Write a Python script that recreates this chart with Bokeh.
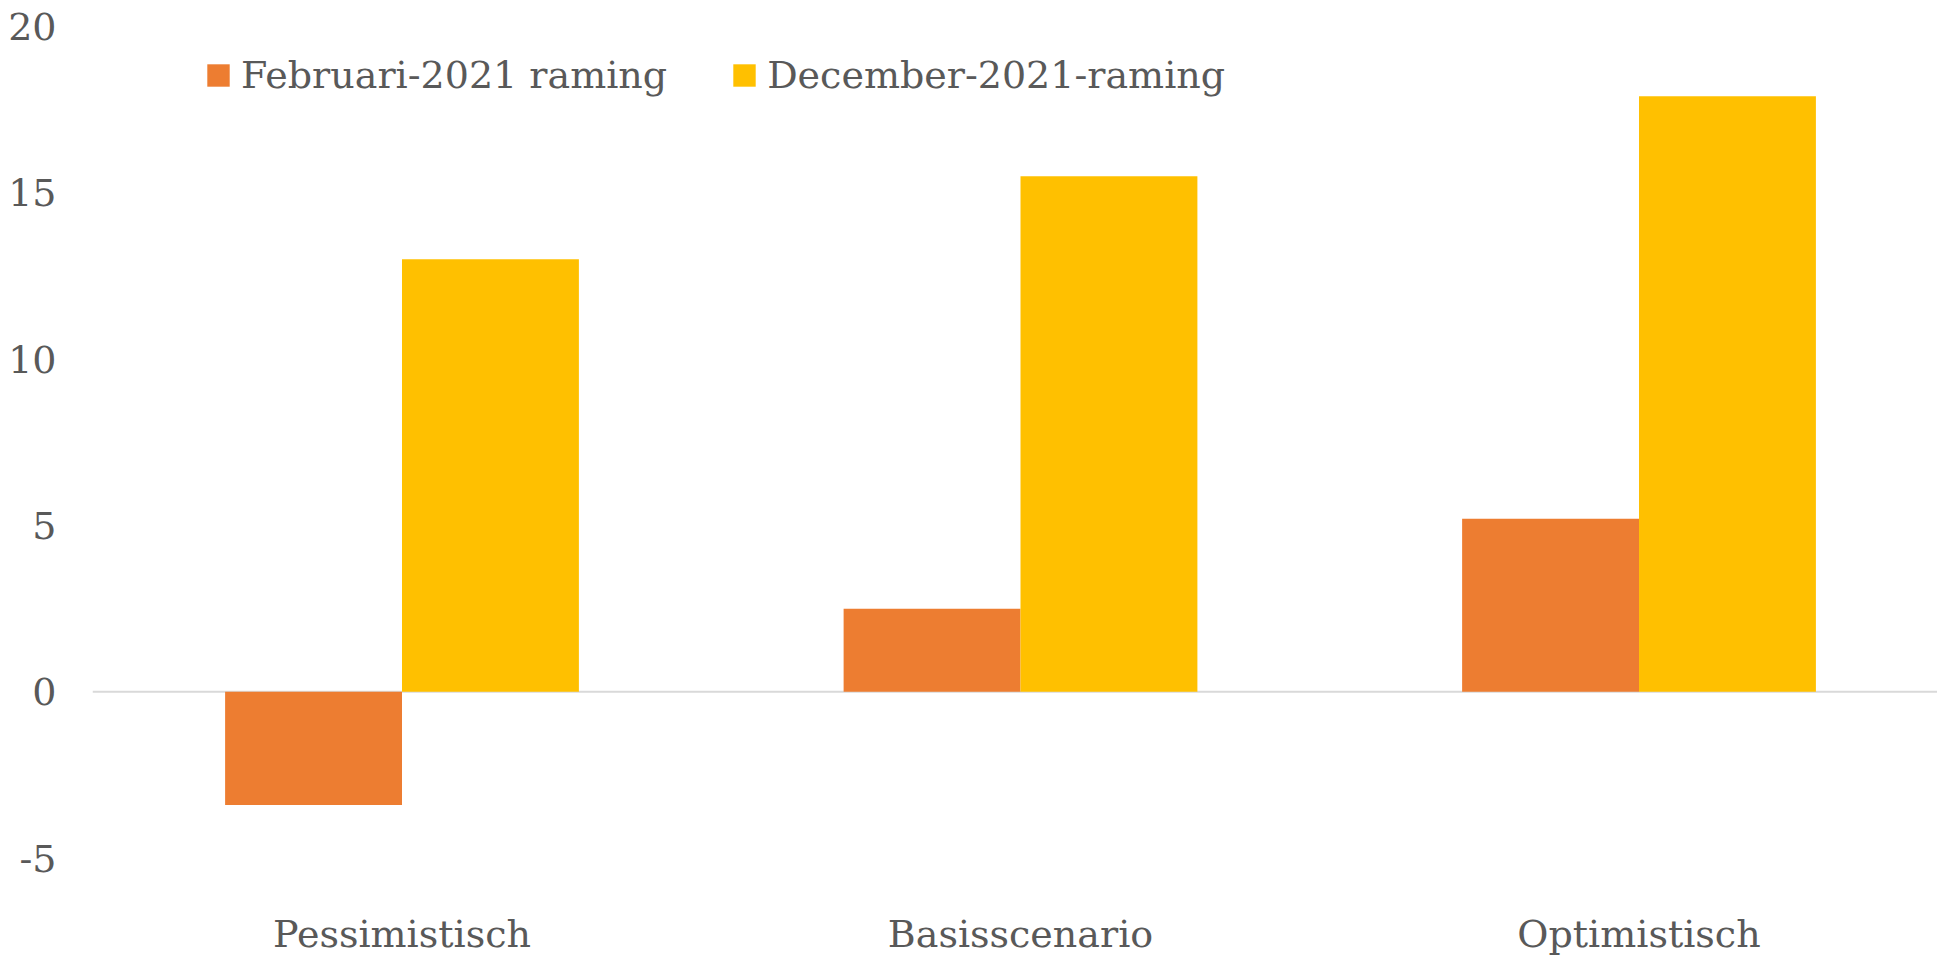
from bokeh.plotting import figure
from bokeh.models import Range1d, FixedTicker, Span, Legend, LegendItem, ColumnDataSource
from bokeh.embed import file_html
from bokeh.resources import INLINE

categories = ["Pessimistisch", "Basisscenario", "Optimistisch"]
februari_2021 = [-3.4, 2.5, 5.2]
december_2021 = [13.0, 15.5, 17.9]
series_names = ["Februari-2021 raming", "December-2021-raming"]
y_ticks = [-5, 0, 5, 10, 15, 20]

FONT = "DejaVu Serif"
TXT = "#595959"
ORANGE = "#ED7D31"
YELLOW = "#FFC000"

xpos = list(range(len(categories)))
src = ColumnDataSource(dict(
    x1=[x - 0.143 for x in xpos],
    x2=[x + 0.143 for x in xpos],
    feb=februari_2021,
    dec=december_2021,
))

p = figure(width=1937, height=958, output_backend="svg", toolbar_location=None,
           x_range=Range1d(-0.5004, 2.4826), y_range=Range1d(-5.04, 20.24),
           min_border_left=92, min_border_right=0, min_border_top=18, min_border_bottom=96)
p.outline_line_color = None
p.background_fill_color = "white"
p.border_fill_color = "white"
p.xgrid.visible = False
p.ygrid.visible = False

zero = Span(location=0, dimension="width", line_color="#d9d9d9", line_width=2, level="underlay")
p.add_layout(zero)

r1 = p.vbar(x="x1", top="feb", bottom=0, width=0.286, source=src,
            fill_color=ORANGE, line_color=None)
r2 = p.vbar(x="x2", top="dec", bottom=0, width=0.286, source=src,
            fill_color=YELLOW, line_color=None)

# axes
p.xaxis.ticker = FixedTicker(ticks=xpos)
p.xaxis.major_label_overrides = {i: c for i, c in zip(xpos, categories)}
p.yaxis.ticker = FixedTicker(ticks=y_ticks)
p.yaxis.major_label_overrides = {t: str(t) for t in y_ticks}
for ax in (p.xaxis[0], p.yaxis[0]):
    ax.axis_line_color = None
    ax.major_tick_line_color = None
    ax.minor_tick_line_color = None
    ax.major_tick_in = 0
    ax.major_tick_out = 0
    ax.major_label_text_font = FONT
    ax.major_label_text_font_size = "38px"
    ax.major_label_text_color = TXT
p.xaxis.major_label_standoff = 52
p.yaxis.major_label_standoff = 36

legend = Legend(items=[LegendItem(label=series_names[0], renderers=[r1]),
                       LegendItem(label=series_names[1], renderers=[r2])],
                orientation="horizontal", location=(112, 762),
                glyph_width=28, glyph_height=28, label_standoff=9, spacing=63,
                padding=0, margin=0, border_line_color=None, background_fill_alpha=0,
                label_text_font=FONT, label_text_font_size="38px", label_text_color=TXT)
p.add_layout(legend, "center")

open("out.html", "w").write(file_html(p, INLINE))
